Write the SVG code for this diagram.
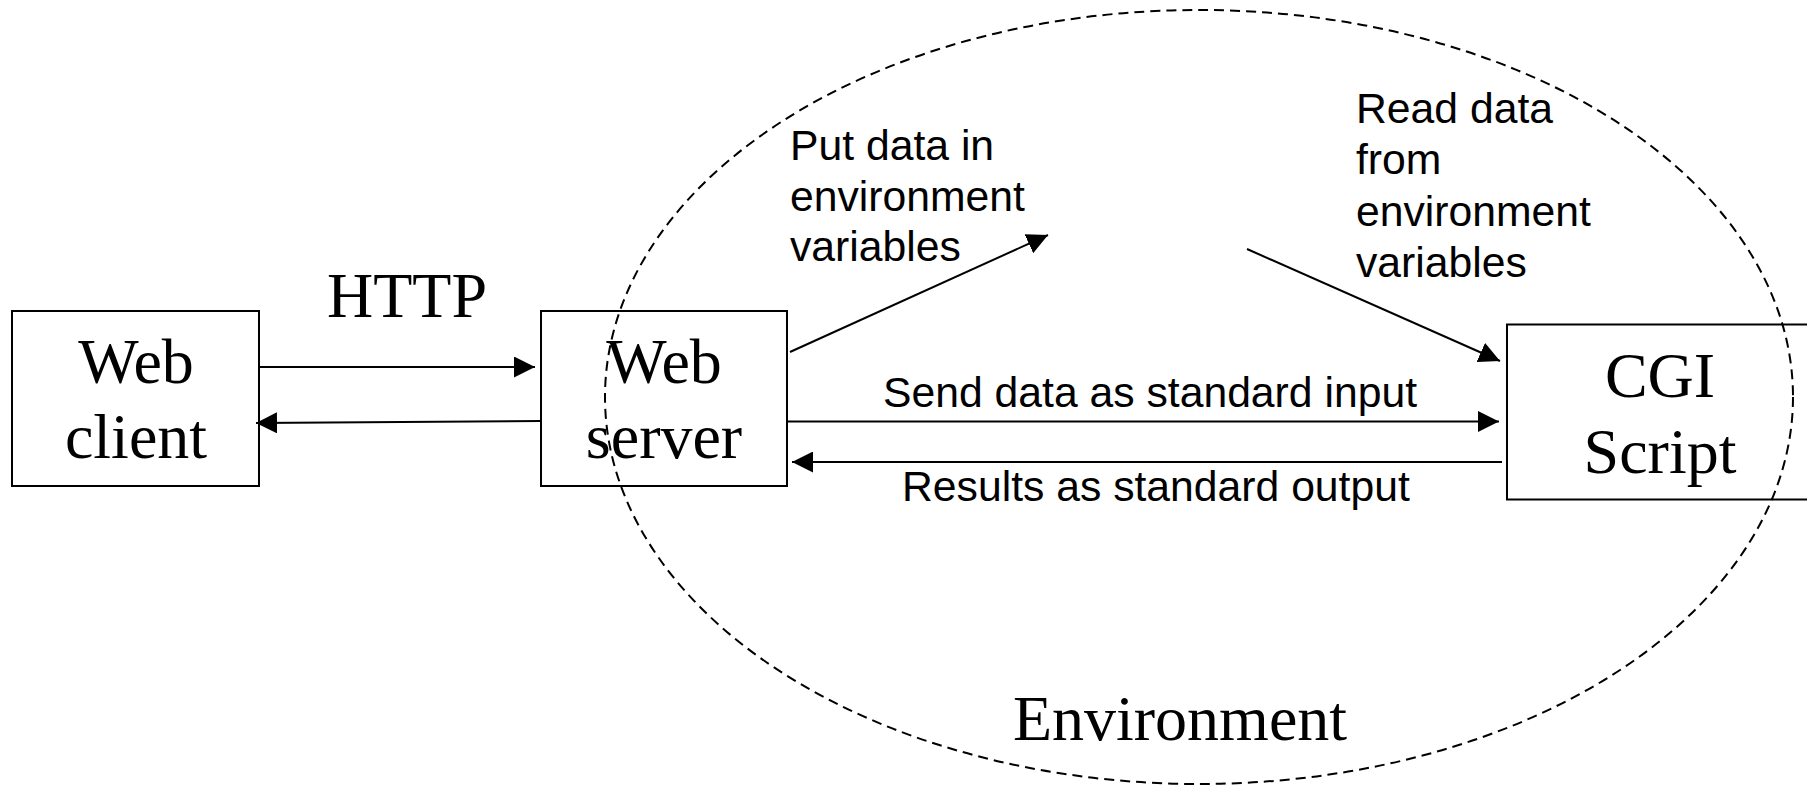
<svg xmlns="http://www.w3.org/2000/svg" width="1807" height="786" viewBox="0 0 1807 786">
  <style>
    .box { fill: #ffffff; stroke: #000000; stroke-width: 2; }
    .env { fill: none; stroke: #000000; stroke-width: 2; stroke-dasharray: 10 6; }
    .link { fill: none; stroke: #000000; stroke-width: 2; marker-end: url(#arrow); }
    .serif { font-family: "Liberation Serif", "Times New Roman", serif; font-size: 64px; fill: #000000; }
    .sans { font-family: "Liberation Sans", Arial, sans-serif; font-size: 42.7px; fill: #000000; }
  </style>
  <defs>
    <marker id="arrow" markerUnits="userSpaceOnUse" markerWidth="21" markerHeight="21" refX="21" refY="10.5" orient="auto">
      <path d="M0,0 L21,10.5 L0,21 Z" fill="#000000"/>
    </marker>
  </defs>

  <rect width="1807" height="786" fill="#ffffff"/>

  <!-- nodes -->
  <g id="web-client">
    <rect class="box" x="12" y="311" width="247" height="175"/>
    <text class="serif" x="136" y="383" text-anchor="middle">Web</text>
    <text class="serif" x="136" y="458" text-anchor="middle">client</text>
  </g>

  <g id="web-server">
    <rect class="box" x="541" y="311" width="246" height="175"/>
    <text class="serif" x="664" y="383" text-anchor="middle">Web</text>
    <text class="serif" x="664" y="458" text-anchor="middle">server</text>
  </g>

  <g id="cgi-script">
    <rect class="box" x="1507" y="324.5" width="330" height="175"/>
    <text class="serif" x="1660" y="397" text-anchor="middle">CGI</text>
    <text class="serif" x="1660" y="473" text-anchor="middle">Script</text>
  </g>

  <!-- environment boundary drawn over the boxes -->
  <g id="environment">
    <ellipse class="env" cx="1199" cy="397" rx="594" ry="387"/>
    <text class="serif" x="1180" y="740" text-anchor="middle">Environment</text>
  </g>

  <!-- connectors -->
  <g id="connectors">
    <line class="link" x1="259" y1="367" x2="535" y2="367"/>
    <line class="link" x1="541" y1="421" x2="256" y2="423"/>
    <line class="link" x1="790" y1="352" x2="1048" y2="235"/>
    <line class="link" x1="1247" y1="249" x2="1500" y2="361"/>
    <line class="link" x1="787" y1="421.5" x2="1499" y2="421.5"/>
    <line class="link" x1="1502" y1="462" x2="792" y2="462"/>
  </g>

  <!-- connector labels -->
  <g id="labels">
    <text class="serif" x="407" y="317" text-anchor="middle">HTTP</text>
    <text class="sans" x="790" y="160">Put data in</text>
    <text class="sans" x="790" y="211">environment</text>
    <text class="sans" x="790" y="261">variables</text>
    <text class="sans" x="1356" y="123">Read data</text>
    <text class="sans" x="1356" y="174">from</text>
    <text class="sans" x="1356" y="225.5">environment</text>
    <text class="sans" x="1356" y="277">variables</text>
    <text class="sans" x="883" y="407">Send data as standard input</text>
    <text class="sans" x="902" y="501">Results as standard output</text>
  </g>
</svg>
